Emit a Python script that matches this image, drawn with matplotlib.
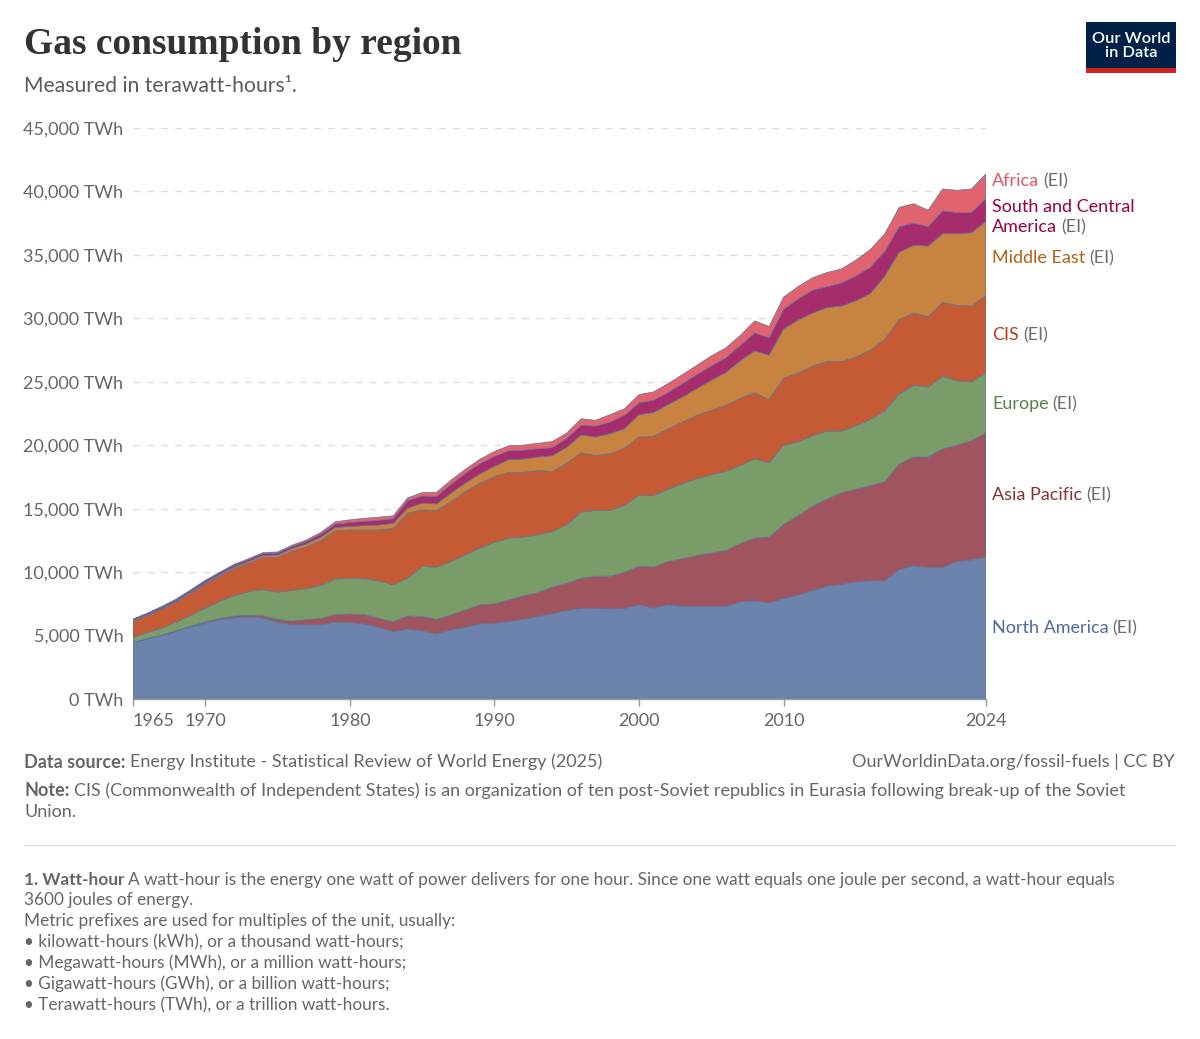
import matplotlib
matplotlib.use("Agg")
import matplotlib.pyplot as plt
import numpy as np
from matplotlib.patches import Rectangle

plt.rcParams['font.family'] = ['Lato', 'DejaVu Sans']

years = list(range(1965, 2025))

north_america = [4400,4720,4980,5320,5670,5980,6250,6400,6460,6380,
                 6040,5850,5850,5850,6060,6020,5920,5650,5310,5500,
                 5370,5130,5440,5650,5920,5970,6100,6290,6500,6710,
                 6970,7150,7150,7100,7150,7420,7150,7420,7310,7310,
                 7310,7310,7650,7730,7580,7920,8190,8530,8890,9030,
                 9220,9310,9310,10200,10500,10360,10360,10830,10970,11170]
asia_pacific = [50,55,60,70,80,90,110,130,150,180,
                230,300,400,500,600,680,730,710,790,1050,
                1130,1160,1190,1370,1500,1530,1710,1840,1890,2100,
                2160,2370,2530,2580,2840,3050,3240,3420,3740,4000,
                4210,4390,4600,4950,5200,5830,6260,6670,6860,7220,
                7310,7500,7830,8330,8580,8720,9360,9170,9390,9800]
europe = [400,450,550,680,850,1100,1350,1600,1850,2050,
          2150,2400,2450,2600,2800,2800,2820,2950,2900,2970,
          3940,4100,4210,4340,4470,4830,4870,4630,4550,4390,
          4600,5210,5180,5180,5260,5570,5650,5680,5910,6050,
          6160,6240,6150,6250,5830,6250,5800,5550,5360,4860,
          5000,5220,5560,5500,5640,5500,5700,5080,4640,4730]
cis = [1290,1360,1500,1580,1750,1900,1980,2150,2250,2550,
       2750,3100,3300,3550,3800,3830,3860,4020,4440,5130,
       4470,4470,4730,5000,5130,5210,5180,5100,5080,4740,
       4860,4680,4340,4470,4530,4610,4680,4780,4870,5000,
       5070,5200,5300,5200,5000,5280,5450,5500,5480,5480,
       5420,5470,5640,5890,5700,5560,5830,5950,5970,6110]
middle_east = [40,50,60,70,80,90,100,120,130,150,
               170,200,220,260,260,270,330,380,400,390,
               530,520,660,660,730,790,1000,1050,1050,1230,
               1250,1400,1450,1580,1520,1760,1850,1900,1970,2100,
               2370,2580,2950,3300,3480,3890,4160,4170,4250,4380,
               4440,4450,5000,5300,5330,5560,5420,5640,5780,5830]
south_central_america = [90,100,110,115,125,135,140,145,150,155,
                         165,175,200,230,270,310,350,380,370,600,
                         560,580,700,760,800,800,700,700,660,640,
                         700,760,860,920,1060,940,970,940,1050,1110,
                         1130,1170,1200,1420,1380,1530,1670,1800,1660,1810,
                         1950,2080,1940,2010,1750,1530,1800,1670,1590,1810]
africa = [30,35,40,45,55,60,60,65,70,75,
          80,100,120,150,180,210,230,240,230,210,
          270,330,330,330,350,380,400,400,420,480,
          420,520,450,580,520,640,660,710,710,730,
          790,780,800,950,890,970,970,980,1110,1110,
          1250,1390,1390,1520,1530,1300,1730,1750,1860,1940]

series_names = ["North America", "Asia Pacific", "Europe", "CIS",
                "Middle East", "South and Central\nAmerica", "Africa"]
series = [north_america, asia_pacific, europe, cis, middle_east,
          south_central_america, africa]
fill_colors = ["#6c84ad", "#a0545f", "#799c68", "#c55b34", "#c7833f", "#a72c6c", "#e0636f"]
label_colors = ["#4c6a9c", "#883039", "#578145", "#bc3a1b", "#b16214", "#970046", "#e0566a"]
label_y_px = [628, 495, 404, 335, 258, 217, 181]

y_ticks = [0, 5000, 10000, 15000, 20000, 25000, 30000, 35000, 40000, 45000]
y_tick_labels = ["0 TWh", "5,000 TWh", "10,000 TWh", "15,000 TWh", "20,000 TWh",
                 "25,000 TWh", "30,000 TWh", "35,000 TWh", "40,000 TWh", "45,000 TWh"]
x_ticks = [1965, 1970, 1980, 1990, 2000, 2010, 2024]

W, H = 1200, 1039
fig = plt.figure(figsize=(W/100, H/100), dpi=100)
fig.patch.set_facecolor("white")

def fx(px): return px / W
def fy(py): return 1 - py / H

ax = fig.add_axes([fx(133), fy(699), fx(986) - fx(133), fy(128) - fy(699)])
edge_cols = [matplotlib.colors.to_hex(np.array(matplotlib.colors.to_rgb(c)) * 0.88) for c in fill_colors]
ax.stackplot(years, *series, colors=fill_colors, linewidth=0.5, edgecolors=edge_cols)
ax.set_xlim(1965, 2024)
ax.set_ylim(0, 45000)
ax.set_yticks(y_ticks)
ax.set_yticklabels(y_tick_labels)
ax.set_xticks(x_ticks)
ax.set_xticklabels([str(x) for x in x_ticks])
for s in ["top", "right", "left"]:
    ax.spines[s].set_visible(False)
ax.spines["bottom"].set_color("#999999")
ax.spines["bottom"].set_linewidth(1)
ax.tick_params(axis="y", length=0, pad=7, labelsize=13, labelcolor="#666666")
ax.tick_params(axis="x", length=5, width=1, color="#999999", pad=5, labelsize=13, labelcolor="#666666")
ax.get_xticklabels()[0].set_ha("left")
for yv in y_ticks[1:]:
    ax.axhline(yv, color="#dddddd", lw=1, ls=(0, (5, 5)), zorder=0)
ax.set_axisbelow(True)

fig.canvas.draw()
renderer = fig.canvas.get_renderer()

def rich(px, py, parts, size):
    x = px
    for txt, color, weight in parts:
        t = fig.text(fx(x), fy(py), txt, color=color, fontsize=size,
                     fontweight=weight, va="center", ha="left")
        bb = t.get_window_extent(renderer)
        x = bb.x1 + 4

# right-side labels
for name, col, ypx in zip(series_names, label_colors, label_y_px):
    lines = name.split("\n")
    if len(lines) == 2:
        fig.text(fx(992), fy(ypx - 10), lines[0], color=col, fontsize=13, va="center")
        rich(992, ypx + 10, [(lines[1], col, "normal"), ("(EI)", "#6e6e6e", "normal")], 13)
    else:
        rich(992, ypx, [(name, col, "normal"), ("(EI)", "#6e6e6e", "normal")], 13)

# title & subtitle
fig.text(fx(24), fy(44), "Gas consumption by region", fontsize=27, fontweight="bold",
         color="#333333", family=["Liberation Serif", "DejaVu Serif"], va="center")
fig.text(fx(24), fy(86), "Measured in terawatt-hours\u00b9.", fontsize=15.2, color="#5b5b5b", va="center")

# logo
fig.patches.append(Rectangle((fx(1086), fy(68)), fx(1176) - fx(1086), fy(22) - fy(68),
                             transform=fig.transFigure, facecolor="#002147", edgecolor="none"))
fig.patches.append(Rectangle((fx(1086), fy(73)), fx(1176) - fx(1086), fy(68) - fy(73),
                             transform=fig.transFigure, facecolor="#ce261e", edgecolor="none"))
fig.text(fx(1131), fy(46), "Our World\nin Data", color="white", fontsize=11.8, fontweight="semibold",
         ha="center", va="center", linespacing=0.92)

# footer
fs = 13
rich(24, 762, [("Data source:", "#666666", "bold"),
               ("Energy Institute - Statistical Review of World Energy (2025)", "#666666", "normal")], fs)
fig.text(fx(1175), fy(762), "OurWorldinData.org/fossil-fuels | CC BY", fontsize=fs,
         color="#666666", ha="right", va="center")
rich(24, 791, [("Note:", "#666666", "bold"),
               ("CIS (Commonwealth of Independent States) is an organization of ten post-Soviet republics in Eurasia following break-up of the Soviet",
                "#666666", "normal")], fs)
fig.text(fx(24), fy(812), "Union.", fontsize=fs, color="#666666", va="center")
fig.add_artist(plt.Line2D([fx(24), fx(1175)], [fy(845), fy(845)], color="#dddddd", lw=1,
                          transform=fig.transFigure))

fs2 = 12.45
rich(24, 880, [("1. Watt-hour", "#666666", "bold"),
               ("A watt-hour is the energy one watt of power delivers for one hour. Since one watt equals one joule per second, a watt-hour equals",
                "#666666", "normal")], fs2)
note_lines = ["3600 joules of energy.",
              "Metric prefixes are used for multiples of the unit, usually:",
              "\u2022 kilowatt-hours (kWh), or a thousand watt-hours;",
              "\u2022 Megawatt-hours (MWh), or a million watt-hours;",
              "\u2022 Gigawatt-hours (GWh), or a billion watt-hours;",
              "\u2022 Terawatt-hours (TWh), or a trillion watt-hours."]
for i, ln in enumerate(note_lines):
    fig.text(fx(24), fy(900 + 21 * i), ln, fontsize=fs2, color="#666666", va="center")

fig.savefig("out.png", dpi=100, facecolor="white")
